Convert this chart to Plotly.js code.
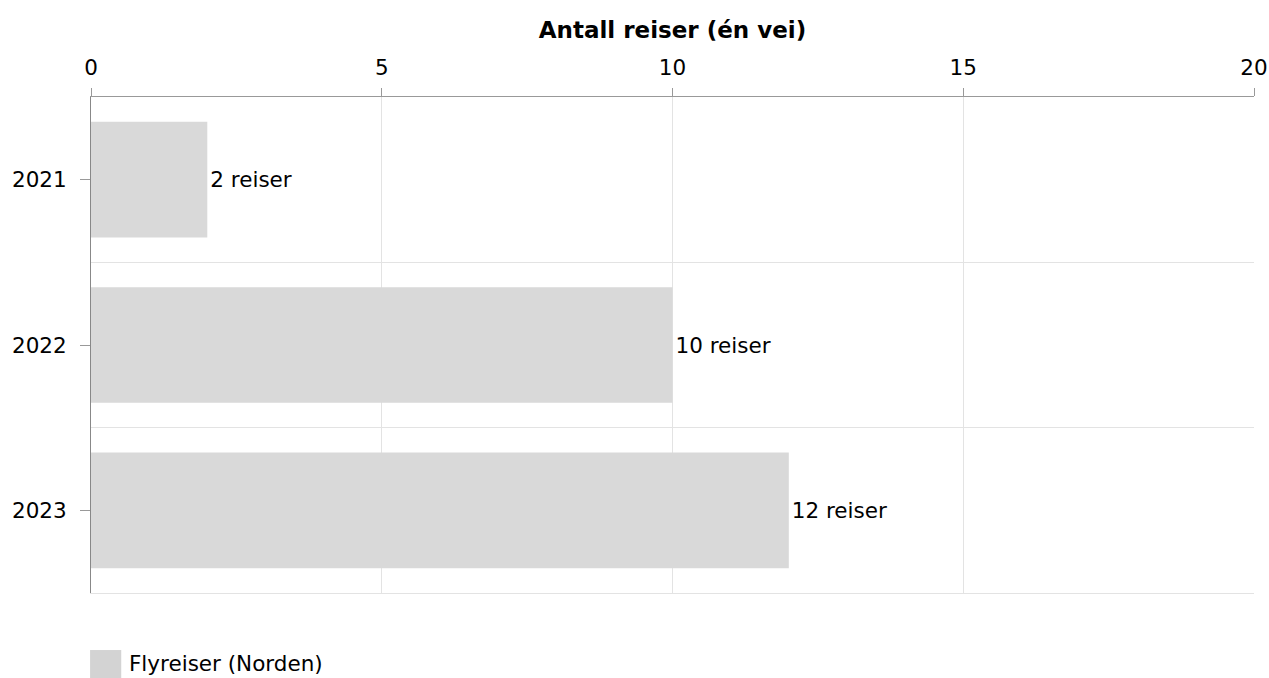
<!DOCTYPE html>
<html>
<head>
<meta charset="utf-8">
<script src="https://cdn.plot.ly/plotly-3.0.1.min.js"></script>
<style>html,body{margin:0;padding:0;background:#fff;}#chart{width:1269px;height:678px;}</style>
</head>
<body>
<div id="chart"></div>
<script>
const years = ['2021', '2022', '2023'];
const trips = [2, 10, 12];
const labels = ['2 reiser', '10 reiser', '12 reiser'];
const seriesName = 'Flyreiser (Norden)';
const axisTitle = 'Antall reiser (én vei)';
const xTicks = [0, 5, 10, 15, 20];

const FONT = 'DejaVu Sans, Verdana, sans-serif';
const FS = 21.5;

const traces = [{
  type: 'bar',
  orientation: 'h',
  y: years,
  x: trips,
  text: labels,
  textposition: 'outside',
  cliponaxis: false,
  textfont: {family: FONT, size: FS, color: '#000'},
  marker: {color: '#d9d9d9'},
  width: 0.7,
  name: seriesName,
  hoverinfo: 'x+y',
  showlegend: false
}, {
  type: 'bar', orientation: 'h', y: years, x: [null, null, null],
  xaxis: 'x2', yaxis: 'y2', showlegend: false, hoverinfo: 'skip'
}];

const layout = {
  width: 1269, height: 678,
  margin: {l: 91, r: 15, t: 97, b: 85},
  paper_bgcolor: '#fff', plot_bgcolor: '#fff',
  font: {family: FONT, size: FS, color: '#000'},
  showlegend: false,
  xaxis: {
    side: 'top',
    range: [0, 20],
    tickvals: xTicks,
    ticks: 'outside', ticklen: 8, tickcolor: '#999',
    showline: true, linecolor: '#999', linewidth: 1,
    showgrid: true, gridcolor: '#e3e3e3',
    zeroline: false,
    tickfont: {family: FONT, size: FS, color: '#000'},
    ticklabelstandoff: 4,
    title: {text: '<b>' + axisTitle + '</b>', font: {family: FONT, size: 23, color: '#000'}, standoff: 10},
    fixedrange: true
  },
  xaxis2: {
    overlaying: 'x', side: 'bottom', matches: 'x',
    showline: true, linecolor: '#e3e3e3', linewidth: 1,
    showgrid: false, zeroline: false, showticklabels: false, ticks: '',
    fixedrange: true
  },
  yaxis: {
    type: 'category',
    categoryarray: years,
    autorange: 'reversed',
    ticks: 'outside', ticklen: 10, tickcolor: '#999',
    showline: true, linecolor: '#888', linewidth: 1,
    showgrid: false, zeroline: false,
    tickfont: {family: FONT, size: FS, color: '#000'},
    ticklabelstandoff: 9,
    fixedrange: true
  },
  yaxis2: {
    type: 'category',
    categoryarray: years,
    autorange: 'reversed',
    overlaying: 'y',
    matches: 'y',
    tickson: 'boundaries',
    showgrid: true, gridcolor: '#e3e3e3',
    showticklabels: false, ticks: '',
    showline: false, zeroline: false,
    fixedrange: true
  },
  shapes: [{
    type: 'rect', xref: 'paper', yref: 'paper',
    x0: -0.0008, x1: 0.026, y0: -0.115, y1: -0.172,
    fillcolor: '#d3d3d3', line: {width: 0}
  }],
  annotations: [{
    xref: 'paper', yref: 'paper',
    x: 0.031, y: -0.142, xanchor: 'left', yanchor: 'middle',
    text: seriesName, showarrow: false,
    font: {family: FONT, size: FS, color: '#000'}
  }]
};

Plotly.newPlot('chart', traces, layout, {displayModeBar: false, responsive: false});
</script>
</body>
</html>
